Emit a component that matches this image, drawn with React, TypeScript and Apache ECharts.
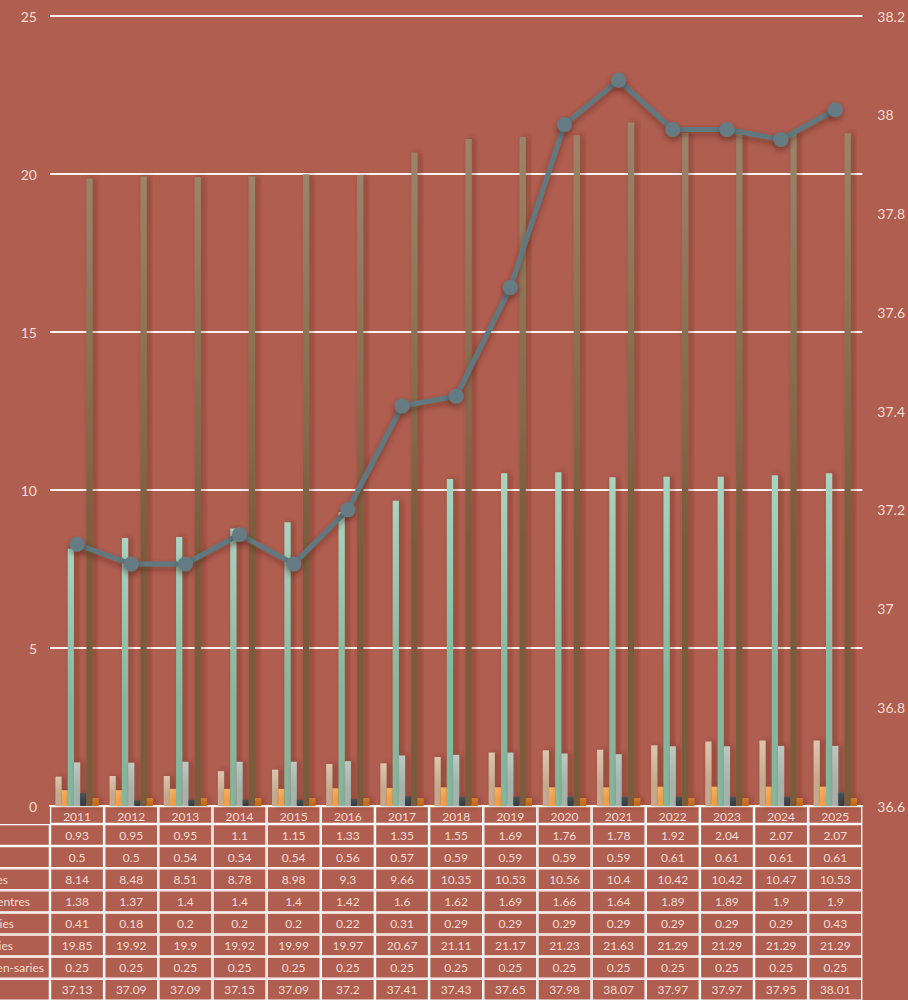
import React, { useEffect, useRef } from "react";
import * as echarts from "echarts";

const years = ["2011", "2012", "2013", "2014", "2015", "2016", "2017", "2018", "2019", "2020", "2021", "2022", "2023", "2024", "2025"];

const seriesNames = [
  "Hospitals",
  "Clinics",
  "Maternity Homes",
  "Health Centres",
  "Pharmacies",
  "Laboratories",
  "Dispen-saries",
  "Total",
];

const hospitals = [0.93, 0.95, 0.95, 1.1, 1.15, 1.33, 1.35, 1.55, 1.69, 1.76, 1.78, 1.92, 2.04, 2.07, 2.07];
const clinics = [0.5, 0.5, 0.54, 0.54, 0.54, 0.56, 0.57, 0.59, 0.59, 0.59, 0.59, 0.61, 0.61, 0.61, 0.61];
const maternityHomes = [8.14, 8.48, 8.51, 8.78, 8.98, 9.3, 9.66, 10.35, 10.53, 10.56, 10.4, 10.42, 10.42, 10.47, 10.53];
const healthCentres = [1.38, 1.37, 1.4, 1.4, 1.4, 1.42, 1.6, 1.62, 1.69, 1.66, 1.64, 1.89, 1.89, 1.9, 1.9];
const pharmacies = [0.41, 0.18, 0.2, 0.2, 0.2, 0.22, 0.31, 0.29, 0.29, 0.29, 0.29, 0.29, 0.29, 0.29, 0.43];
const laboratories = [19.85, 19.92, 19.9, 19.92, 19.99, 19.97, 20.67, 21.11, 21.17, 21.23, 21.63, 21.29, 21.29, 21.29, 21.29];
const dispensaries = [0.25, 0.25, 0.25, 0.25, 0.25, 0.25, 0.25, 0.25, 0.25, 0.25, 0.25, 0.25, 0.25, 0.25, 0.25];
const total = [37.13, 37.09, 37.09, 37.15, 37.09, 37.2, 37.41, 37.43, 37.65, 37.98, 38.07, 37.97, 37.97, 37.95, 38.01];

const barData = [hospitals, clinics, maternityHomes, healthCentres, pharmacies, laboratories, dispensaries];

// [top colour, bottom colour]
const barColors = [
  ["#dcc6b0", "#c6aa8f"],
  ["#f8b262", "#f0a04c"],
  ["#a8d4c2", "#86b69e"],
  ["#bcc8c2", "#a6b2ac"],
  ["#4a5558", "#39424a"],
  ["#9a846a", "#7a5c3c"],
  ["#d68030", "#c46c1c"],
];

// right edge (px) of each row label in the table's label column
const labelEnds = [-20, -20, 8, 30, 14, 13, 44, -20];

const BG = "#b05e4f";
const TEXT = "#f3dcd5";
const FONT = "Lato, 'Noto Sans', sans-serif";

export default function App() {
  const ref = useRef<HTMLDivElement>(null);

  useEffect(() => {
    if (!ref.current) return;
    const chart = echarts.init(ref.current, undefined, { renderer: "svg" });

    const bars = barData.map((d, i) => ({
      name: seriesNames[i],
      type: "bar",
      yAxisIndex: 0,
      data: d,
      barGap: "0%",
      barCategoryGap: "20%",
      itemStyle: {
        color: new echarts.graphic.LinearGradient(0, 0, 0, 1, [
          { offset: 0, color: barColors[i][0] },
          { offset: 0.6, color: barColors[i][1] },
          { offset: 1, color: barColors[i][1] },
        ]),
        shadowColor: "rgba(60,20,10,0.35)",
        shadowBlur: 6,
        shadowOffsetX: 3,
      },
    }));

    chart.setOption({
      animation: false,
      backgroundColor: BG,
      textStyle: { fontFamily: FONT },
      grid: { left: 50, right: 44, top: 16, bottom: 194, containLabel: false },
      xAxis: {
        type: "category",
        data: years,
        axisLine: { show: true, lineStyle: { color: "#ffffff", width: 2 } },
        axisTick: { show: false },
        axisLabel: { show: false },
      },
      yAxis: [
        {
          type: "value",
          min: 0,
          max: 25,
          interval: 5,
          axisLine: { show: false },
          axisTick: { show: false },
          axisLabel: { color: TEXT, fontSize: 14, margin: 13, fontFamily: FONT },
          splitLine: { show: true, lineStyle: { color: "#fbf3f0", width: 2 } },
        },
        {
          type: "value",
          min: 36.6,
          max: 38.2,
          interval: 0.2,
          position: "right",
          axisLine: { show: false },
          axisTick: { show: false },
          axisLabel: { color: TEXT, fontSize: 14, margin: 15, fontFamily: FONT },
          splitLine: { show: false },
        },
      ],
      series: [
        ...bars,
        {
          name: seriesNames[7],
          type: "line",
          yAxisIndex: 1,
          data: total,
          z: 5,
          symbol: "circle",
          symbolSize: 15,
          lineStyle: {
            color: "#607880",
            width: 5,
            shadowColor: "rgba(50,20,10,0.4)",
            shadowBlur: 6,
            shadowOffsetY: 3,
          },
          itemStyle: {
            color: "#657c84",
            shadowColor: "rgba(50,20,10,0.4)",
            shadowBlur: 6,
            shadowOffsetY: 3,
          },
        },
      ],
    });

    // data table under the plot
    const c0 = chart.convertToPixel({ xAxisIndex: 0 }, 0) as number;
    const c1 = chart.convertToPixel({ xAxisIndex: 0 }, 1) as number;
    const colW = c1 - c0;
    const tableLeft = c0 - colW / 2;
    const yTop = chart.convertToPixel({ yAxisIndex: 0 }, 0) as number;
    const headerH = 18;
    const rowH = 22.1;
    const rows = [...barData, total];
    const elements: any[] = [];
    const cell = (x: number, y: number, w: number, h: number) => ({
      type: "rect",
      silent: true,
      shape: { x: x + 0.6, y: y + 0.6, width: w - 1.2, height: h - 1.2 },
      style: { fill: "none", stroke: "#ffffff", lineWidth: 1.3 },
    });
    const txt = (s: string, x: number, y: number, align = "center") => ({
      type: "text",
      silent: true,
      x,
      y,
      style: {
        text: s,
        fill: TEXT,
        font: `12px ${FONT}`,
        align,
        verticalAlign: "middle",
      },
    });
    years.forEach((yr, j) => {
      const x = tableLeft + j * colW;
      elements.push(cell(x, yTop, colW, headerH));
      elements.push(txt(yr, x + colW / 2, yTop + headerH / 2 + 1));
    });
    rows.forEach((vals, r) => {
      const y = yTop + headerH + r * rowH;
      elements.push(cell(-150, y, tableLeft + 150, rowH));
      elements.push(txt(seriesNames[r], labelEnds[r], y + rowH / 2, "right"));
      vals.forEach((v, j) => {
        const x = tableLeft + j * colW;
        elements.push(cell(x, y, colW, rowH));
        elements.push(txt(String(v), x + colW / 2, y + rowH / 2));
      });
    });
    chart.setOption({ graphic: { elements } });

    return () => chart.dispose();
  }, []);

  return (
    <div
      ref={ref}
      style={{ position: "fixed", left: 0, top: 0, width: 908, height: 1000, background: BG }}
    />
  );
}
